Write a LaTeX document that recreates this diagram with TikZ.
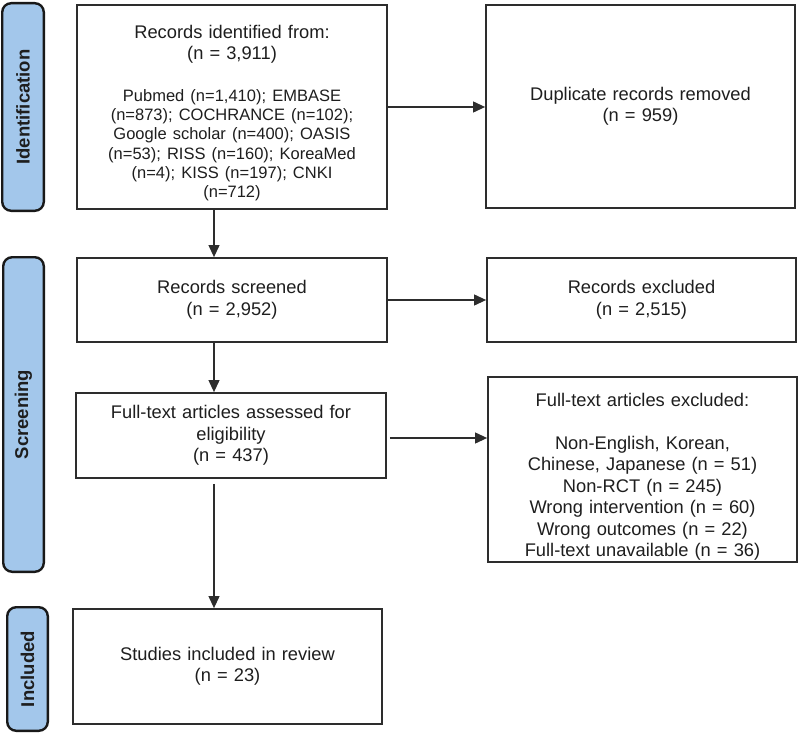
\documentclass[tikz,border=0pt]{standalone}
\usepackage{fontspec}
\setmainfont{Liberation Sans}
\usetikzlibrary{arrows.meta,calc}
\definecolor{barblue}{RGB}{163,199,235}
\definecolor{edgegray}{RGB}{45,45,45}
\definecolor{txt}{RGB}{30,30,30}
\begin{document}
\begin{tikzpicture}[x=1pt,y=-1pt,
  box/.style={draw=edgegray, line width=1.8pt, fill=white, inner sep=0pt,
    align=center, text=txt, text width=300pt, font=\fontsize{18.3}{21.5}\selectfont},
  bar/.style={draw=black!90, line width=2.4pt, fill=barblue, rounded corners=9pt,
    inner sep=0pt, font=\fontsize{18.5}{22}\selectfont\bfseries, text=txt, rotate=90},
  conn/.style={draw=edgegray, line width=1.1pt, -{Triangle[length=12pt,width=11pt]}}]
\useasboundingbox (0,0) rectangle (800,733);

% phase bars
\node[bar, minimum width=207.6pt, minimum height=41.6pt] (idbar) at (23,107) {Identification};
\node[bar, minimum width=314.6pt, minimum height=40.6pt] (scbar) at (23.5,414.5) {Screening};
\node[bar, minimum width=123.6pt, minimum height=40.6pt] (incbar) at (27.5,669) {Included};

% boxes
\node[box, minimum width=310pt, minimum height=204pt] (box1) at (232,107)
  {{\fontsize{18.3}{21}\selectfont\rule{0pt}{26pt}Records identified from:\\(n = 3,911)\par}\vspace{22pt}%
   {\fontsize{16.5}{19.3}\selectfont Pubmed (n=1,410); EMBASE\\(n=873); COCHRANCE (n=102);\\Google scholar (n=400); OASIS\\(n=53); RISS (n=160); KoreaMed\\(n=4); KISS (n=197); CNKI\\(n=712)\par}};
\node[box, minimum width=309pt, minimum height=203pt] (box2) at (640.5,106.5)
  {Duplicate records removed\\(n = 959)};
\node[box, minimum width=310pt, minimum height=84pt] (box3) at (232,300)
  {Records screened\\(n = 2,952)};
\node[box, minimum width=309pt, minimum height=84pt] (box4) at (641.5,300)
  {Records excluded\\(n = 2,515)};
\node[box, minimum width=310pt, minimum height=85pt] (box5) at (231,435.5)
  {Full-text articles assessed for\\eligibility\\(n = 437)};
\node[box, minimum width=309pt, minimum height=185pt] (box6) at (642.5,469.5)
  {\rule{0pt}{28pt}Full-text articles excluded:\\[21.4pt]Non-English, Korean,\\Chinese, Japanese (n = 51)\\Non-RCT (n = 245)\\Wrong intervention (n = 60)\\Wrong outcomes (n = 22)\\Full-text unavailable (n = 36)};
\node[box, minimum width=309pt, minimum height=115pt] (box7) at (227.5,666.5)
  {Studies included in review\\(n = 23)};

% connectors
\coordinate (sp) at (214,0);
\draw[conn] (box1.south -| sp) -- (box3.north -| sp);
\draw[conn] (box3.south -| sp) -- (box5.north -| sp);
\draw[conn, shorten <=5pt] (box5.south -| sp) -- (box7.north -| sp);
\draw[conn] (box1.east) -- (box1.east -| box2.west);
\draw[conn] (box3.east) -- (box3.east -| box4.west);
\draw[conn, shorten <=3pt] ($(box5.east)+(0,2.5)$) -- ($(box5.east -| box6.west)+(0,2.5)$);
\end{tikzpicture}
\end{document}
